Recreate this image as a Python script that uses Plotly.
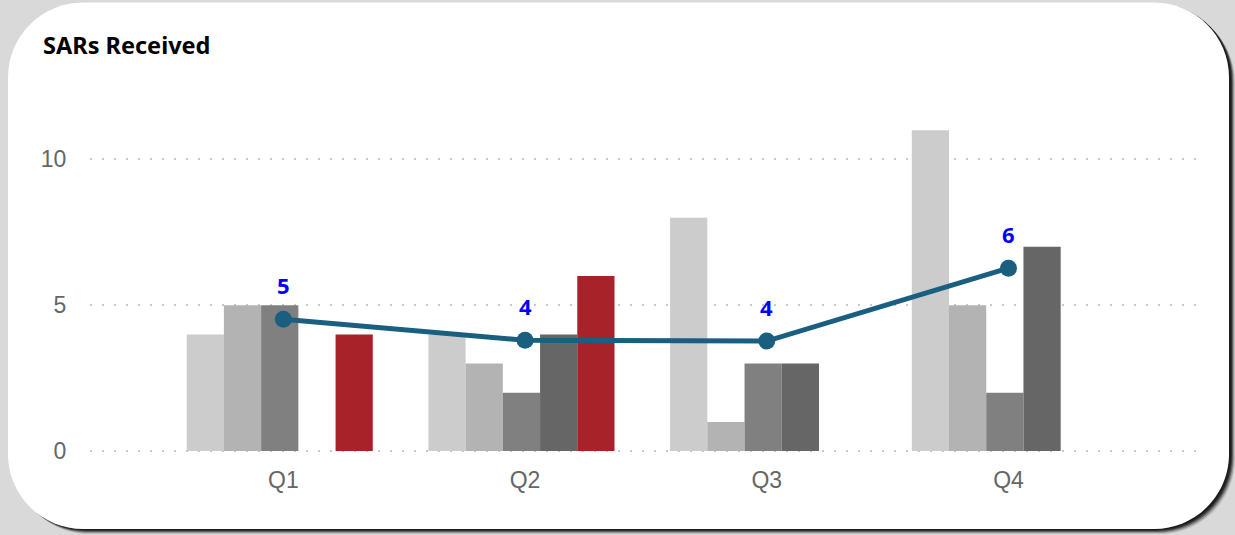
import plotly.graph_objects as go

quarters = ["Q1", "Q2", "Q3", "Q4"]
series_names = ["Series 1", "Series 2", "Series 3", "Series 4", "Series 5"]
series_values = [
    [4, 4, 8, 11],
    [5, 3, 1, 5],
    [5, 2, 3, 2],
    [None, 4, 3, 7],
    [4, 6, None, None],
]
line_name = "Average"
line_values = [4.52, 3.8, 3.77, 6.27]

bar_colors = ["#cccccc", "#b3b3b3", "#808080", "#666666", "#a8222a"]
line_color = "#1a5e80"

W, H = 1235, 535
PX0, PX1 = 90, 1197
Y_MIN, Y_MAX = -0.1, 12.0
PX_PER_UNIT = 29.2
ZERO_PY = 451
PY_TOP = ZERO_PY - Y_MAX * PX_PER_UNIT
PY_BOT = ZERO_PY - Y_MIN * PX_PER_UNIT


def px(x):
    return (x - PX0) / (PX1 - PX0)


def py(y):
    return (PY_BOT - y) / (PY_BOT - PY_TOP)


def rounded_rect(x0, y0, x1, y1, r):
    k = 0.5523 * r
    pts = [
        f"M {px(x0 + r)},{py(y0)}",
        f"L {px(x1 - r)},{py(y0)}",
        f"C {px(x1 - r + k)},{py(y0)} {px(x1)},{py(y0 + r - k)} {px(x1)},{py(y0 + r)}",
        f"L {px(x1)},{py(y1 - r)}",
        f"C {px(x1)},{py(y1 - r + k)} {px(x1 - r + k)},{py(y1)} {px(x1 - r)},{py(y1)}",
        f"L {px(x0 + r)},{py(y1)}",
        f"C {px(x0 + r - k)},{py(y1)} {px(x0)},{py(y1 - r + k)} {px(x0)},{py(y1 - r)}",
        f"L {px(x0)},{py(y0 + r)}",
        f"C {px(x0)},{py(y0 + r - k)} {px(x0 + r - k)},{py(y0)} {px(x0 + r)},{py(y0)}",
        "Z",
    ]
    return " ".join(pts)


def label(v):
    return str(int(v + 0.5))


fig = go.Figure()

bw = 0.154
start = -0.40
for i, (name, vals, col) in enumerate(zip(series_names, series_values, bar_colors)):
    fig.add_trace(go.Bar(
        x=quarters, y=vals, name=name,
        marker=dict(color=col, line=dict(width=0)),
        width=bw, offset=start + i * bw,
        hoverinfo="x+y+name",
    ))

fig.add_trace(go.Scatter(
    x=quarters, y=line_values, name=line_name,
    mode="lines+markers",
    line=dict(color=line_color, width=5),
    marker=dict(color=line_color, size=17),
    cliponaxis=False,
))

annotations = [dict(
    text="<b>SARs Received</b>", xref="paper", yref="paper",
    x=px(41), y=py(45), xanchor="left", yanchor="middle", showarrow=False,
    font=dict(family="Noto Sans", size=23.5, color="#000000"),
)]
for q, v in zip(quarters, line_values):
    annotations.append(dict(
        x=q, y=v, xref="x", yref="y", text=f"<b>{label(v)}</b>",
        showarrow=False, xanchor="center", yanchor="middle", yshift=34,
        font=dict(family="Noto Sans", size=22, color="#0000ff"),
    ))

shapes = []
for dx, dy, a in [(5, 5, 0.12), (4, 4, 0.22), (3, 3, 0.35), (2, 2, 0.5), (1, 1, 0.4)]:
    shapes.append(dict(type="path", xref="paper", yref="paper", layer="below",
                       path=rounded_rect(9 + dx, 2 + dy, 1230 + dx, 529 + dy, 75),
                       fillcolor=f"rgba(0,0,0,{a})", line=dict(width=0)))
shapes.append(dict(type="path", xref="paper", yref="paper", layer="below",
                   path=rounded_rect(8, 2, 1229, 529, 75),
                   fillcolor="#ffffff", line=dict(width=0)))

fig.update_layout(
    width=W, height=H,
    margin=dict(l=PX0, r=W - PX1, t=PY_TOP, b=H - PY_BOT, pad=0),
    paper_bgcolor="#d9d9d9",
    plot_bgcolor="rgba(0,0,0,0)",
    barmode="overlay",
    showlegend=False,
    shapes=shapes,
    annotations=annotations,
    xaxis=dict(
        range=[-0.8, 3.78], showgrid=False, zeroline=False, showline=False,
        ticks="outside", ticklen=5, tickcolor="rgba(0,0,0,0)",
        tickfont=dict(family="Liberation Sans", size=23, color="#666666"),
        fixedrange=True,
    ),
    yaxis=dict(
        range=[Y_MIN, Y_MAX], tickvals=[0, 5, 10], showgrid=True,
        gridcolor="#c8c8c8", gridwidth=2, griddash="2px,10px",
        zeroline=False, showline=False,
        ticks="outside", ticklen=18, tickcolor="rgba(0,0,0,0)",
        tickfont=dict(family="Liberation Sans", size=23, color="#666666"),
        fixedrange=True,
    ),
)

fig.write_html("out.html", config={"displayModeBar": False},
               post_script="document.body.style.margin='0';")
